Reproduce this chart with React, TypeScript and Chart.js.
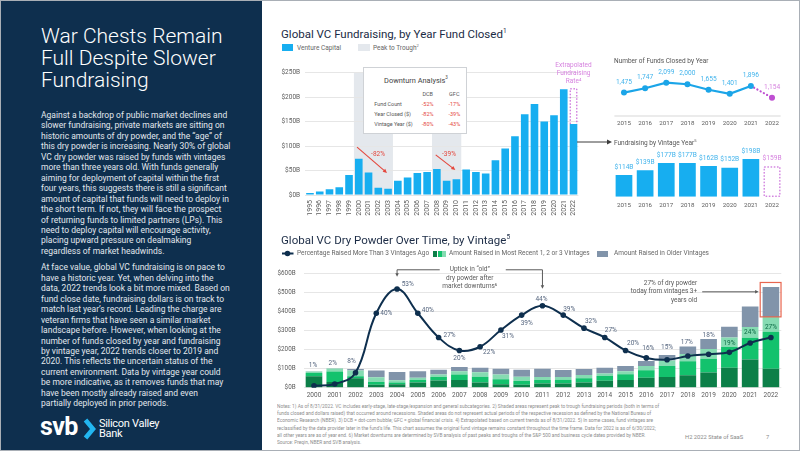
import React, { useEffect, useRef } from 'react';
import { Chart, registerables } from 'chart.js';

Chart.register(...registerables);

const FONT = "Roboto, 'Liberation Sans', Arial, sans-serif";

// ---------------- data ----------------
const closeYears = ['1995','1996','1997','1998','1999','2000','2001','2002','2003','2004','2005','2006','2007','2008','2009','2010','2011','2012','2013','2014','2015','2016','2017','2018','2019','2020','2021','2022'];
const vcFundraisingB = [4,7,12,16,41,74,46,15,13,29,36,45,47,53,29,32,52,47,44,71,95,120,165,186,150,163,216,145];
const extrapolatedTotal2022B = 218;
const topYTickLabels = ['$0B','$50B','$100B','$150B','$200B','$250B'];
const peakToTroughPeriods = [['2000','2003'],['2008','2010']];
const downturnRows = ['Fund Count','Year Closed ($)','Vintage Year ($)'];
const downturnDCB = ['-52%','-82%','-80%'];
const downturnGFC = ['-17%','-39%','-43%'];

const recentYears = ['2015','2016','2017','2018','2019','2020','2021','2022'];
const fundsClosed = [1475,1747,2099,2000,1655,1401,1896,1154];
const vintageFundraisingB = [114,139,177,177,162,152,198,159];

const vintageYears = ['2000','2001','2002','2003','2004','2005','2006','2007','2008','2009','2010','2011','2012','2013','2014','2015','2016','2017','2018','2019','2020','2021','2022'];
const mostRecentVintage1B = [60,30,50,15,18,28,38,40,28,18,15,22,22,28,36,40,52,57,65,80,105,148,100];
const mostRecentVintage2B = [17,55,10,15,10,12,18,30,30,27,20,18,20,22,26,31,40,57,74,72,110,115,195];
const mostRecentVintage3B = [8,16,30,25,11,12,13,17,24,24,23,16,15,17,13,16,22,29,38,52,50,57,78];
const olderVintagesB = [1,2,8,36,44,34,26,22,23,31,37,44,36,31,30,27,26,29,40,53,56,108,158];
const pctOlderThan3 = [1,2,8,40,53,40,27,20,22,31,39,44,39,32,27,20,16,15,17,18,19,24,27];
const dryYTickLabels = ['$0B','$100B','$200B','$300B','$400B','$500B','$600B'];

// ---------------- annotation config (styling / placement) ----------------
const downturnArrows = [
  { label: '-82%', from: [4.82, 98], to: [7.89, 45], labelAt: [6.97, 84] },
  { label: '-39%', from: [12.88, 82], to: [14.89, 51], labelAt: [14.24, 84] },
];
const extrapolatedLabel = ['Extrapolated', 'Fundraising', 'Rate\u2074'];
const pctLabelOffsets = [
  [-1,-20],[-2,-21],[-4,-11],[10,0],[10.6,-5],[10,-3],[11,-2],[0,8.4],[9,6],[7,6],[5,8],
  [-1,-6.5],[6,-6],[7,-7],[6,-7],[7.5,-7],[2,-10],[0,-12],[-1,-13.4],[0,-18.5],[0,-9],[0,-11],[0,-10],
];
const uptickText = ['Uptick in \u201Cold\u201D', 'dry powder after', 'market downturns\u2076'];
const todayText = ['27% of dry powder', 'today from vintages 3+', 'years old'];

const NAVY = '#0e2f4e';
const BLUE = '#17aef0';
const LINE_BLUE = '#1ba5e8';
const LABEL_BLUE = '#43b4ec';
const MAGENTA = '#bf4fd2';
const PINK_TEXT = '#d683df';
const RED = '#e4473d';
const SHADE = '#e4e8ed';
const GRID = '#e6e6e6';
const TICK = '#5c5c5c';
const G1 = '#0c7f48';
const G2 = '#13c26d';
const G3 = '#86dbb2';
const GRAYV = '#8194aa';

function drawArrow(ctx: any, x0: number, y0: number, x1: number, y1: number, color: string, head = 4, width = 1) {
  const ang = Math.atan2(y1 - y0, x1 - x0);
  ctx.save();
  ctx.strokeStyle = color;
  ctx.fillStyle = color;
  ctx.lineWidth = width;
  ctx.beginPath();
  ctx.moveTo(x0, y0);
  ctx.lineTo(x1 - Math.cos(ang) * head * 0.7, y1 - Math.sin(ang) * head * 0.7);
  ctx.stroke();
  ctx.beginPath();
  ctx.moveTo(x1, y1);
  ctx.lineTo(x1 - head * Math.cos(ang - 0.45), y1 - head * Math.sin(ang - 0.45));
  ctx.lineTo(x1 - head * Math.cos(ang + 0.45), y1 - head * Math.sin(ang + 0.45));
  ctx.closePath();
  ctx.fill();
  ctx.restore();
}

const topPlugin = {
  id: 'topAnno',
  beforeDraw(chart: any) {
    const { ctx } = chart;
    const x = chart.scales.x, y = chart.scales.y;
    const step = x.getPixelForValue(1) - x.getPixelForValue(0);
    ctx.save();
    ctx.fillStyle = SHADE;
    peakToTroughPeriods.forEach(([a, b]) => {
      const x0 = x.getPixelForValue(closeYears.indexOf(a)) - step / 2;
      const x1 = x.getPixelForValue(closeYears.indexOf(b)) + step / 2;
      const yt = y.getPixelForValue(y.max), yb = y.getPixelForValue(0);
      ctx.fillRect(x0, yt, x1 - x0, yb - yt);
    });
    ctx.restore();
  },
  afterDraw(chart: any) {
    const { ctx } = chart;
    const x = chart.scales.x, y = chart.scales.y;
    const last = closeYears.length - 1;
    const el = chart.getDatasetMeta(1).data[last];
    const p = el.getProps(['x', 'y', 'base', 'width'], true);
    ctx.save();
    ctx.setLineDash([1.6, 1.6]);
    ctx.strokeStyle = MAGENTA;
    ctx.lineWidth = 1;
    const l = p.x - p.width / 2 + 0.5, r = p.x + p.width / 2 - 0.5;
    ctx.beginPath();
    ctx.moveTo(l, p.base);
    ctx.lineTo(l, p.y + 0.5);
    ctx.lineTo(r, p.y + 0.5);
    ctx.lineTo(r, p.base);
    ctx.stroke();
    ctx.setLineDash([]);
    ctx.font = `6.5px ${FONT}`;
    ctx.textAlign = 'center';
    ctx.textBaseline = 'middle';
    ctx.fillStyle = PINK_TEXT;
    extrapolatedLabel.forEach((t, i) => ctx.fillText(t, p.x, p.y - 22.7 + i * 8));
    downturnArrows.forEach((a) => {
      drawArrow(ctx, x.getPixelForValue(a.from[0]), y.getPixelForValue(a.from[1]), x.getPixelForValue(a.to[0]), y.getPixelForValue(a.to[1]), RED, 4.5, 1.1);
      ctx.fillStyle = RED;
      ctx.font = `6.5px ${FONT}`;
      ctx.fillText(a.label, x.getPixelForValue(a.labelAt[0]), y.getPixelForValue(a.labelAt[1]));
    });
    ctx.restore();
  },
};

const fundsPlugin = {
  id: 'fundsAnno',
  beforeDatasetsDraw(chart: any) {
    const { ctx, chartArea } = chart;
    const y0 = chart.scales.y.getPixelForValue(0);
    ctx.save();
    ctx.strokeStyle = '#e4e4e4';
    ctx.lineWidth = 1.6;
    ctx.beginPath();
    ctx.moveTo(chartArea.left + 1, y0);
    ctx.lineTo(chartArea.right - 2, y0);
    ctx.stroke();
    ctx.restore();
  },
  afterDraw(chart: any) {
    const { ctx } = chart;
    const meta = chart.getDatasetMeta(0);
    ctx.save();
    ctx.font = `6.6px ${FONT}`;
    ctx.textAlign = 'center';
    ctx.textBaseline = 'middle';
    meta.data.forEach((pt: any, i: number) => {
      const last = i === fundsClosed.length - 1;
      ctx.fillStyle = last ? PINK_TEXT : LABEL_BLUE;
      ctx.fillText(fundsClosed[i].toLocaleString('en-US'), pt.x, pt.y - 10.5);
    });
    ctx.restore();
  },
};

const vintagePlugin = {
  id: 'vintAnno',
  afterDraw(chart: any) {
    const { ctx } = chart;
    const meta = chart.getDatasetMeta(0);
    ctx.save();
    ctx.font = `6.6px ${FONT}`;
    ctx.textAlign = 'center';
    ctx.textBaseline = 'middle';
    meta.data.forEach((el: any, i: number) => {
      const p = el.getProps(['x', 'y', 'base', 'width'], true);
      const last = i === vintageFundraisingB.length - 1;
      if (last) {
        ctx.setLineDash([1.6, 1.6]);
        ctx.strokeStyle = MAGENTA;
        ctx.lineWidth = 1;
        ctx.strokeRect(p.x - p.width / 2 + 0.5, p.y + 0.5, p.width - 1, p.base - p.y - 1);
        ctx.setLineDash([]);
      }
      ctx.fillStyle = last ? PINK_TEXT : LABEL_BLUE;
      ctx.fillText('$' + vintageFundraisingB[i] + 'B', p.x, p.y - 8);
    });
    ctx.restore();
  },
};

const dryPlugin = {
  id: 'dryAnno',
  afterDraw(chart: any) {
    const { ctx } = chart;
    const x = chart.scales.x, y = chart.scales.y;
    const lineMeta = chart.getDatasetMeta(0);
    ctx.save();
    ctx.font = `6.5px ${FONT}`;
    ctx.textAlign = 'center';
    ctx.textBaseline = 'middle';
    pctOlderThan3.forEach((v, i) => {
      const pt = lineMeta.data[i];
      const [dx, dy] = pctLabelOffsets[i];
      ctx.fillStyle = i >= 20 ? '#0c6b45' : '#56667f';
      ctx.fillText(v + '%', pt.x + dx, pt.y + dy);
    });

    // uptick bracket
    ctx.strokeStyle = '#5a5a5a';
    ctx.fillStyle = '#5a5a5a';
    ctx.lineWidth = 1;
    const xa = x.getPixelForValue(vintageYears.indexOf('2004'));
    const xb = x.getPixelForValue(vintageYears.indexOf('2011'));
    const xm = (xa + xb) / 2;
    const yTop = y.getPixelForValue(621);
    ctx.fillStyle = '#5a5a5a';
    uptickText.forEach((t, i) => ctx.fillText(t, xm, yTop + i * 8.2));
    const hw = ctx.measureText(uptickText[0]).width / 2 + 10;
    ctx.beginPath();
    ctx.moveTo(xm - hw, yTop);
    ctx.lineTo(xa, yTop);
    ctx.stroke();
    drawArrow(ctx, xa, yTop, xa, y.getPixelForValue(584), '#5a5a5a', 4, 1);
    ctx.beginPath();
    ctx.moveTo(xm + hw + 6, yTop);
    ctx.lineTo(xb, yTop);
    ctx.stroke();
    drawArrow(ctx, xb, yTop, xb, y.getPixelForValue(521), '#5a5a5a', 4, 1);

    // 2022 highlight
    const oldMeta = chart.getDatasetMeta(4);
    const el = oldMeta.data[vintageYears.length - 1];
    const p = el.getProps(['x', 'y', 'base', 'width'], true);
    const rl = p.x - p.width / 2 - 2.4, rr = p.x + p.width / 2 + 1.8;
    const rt = p.y - 4.4, rb = p.base;
    ctx.strokeStyle = '#e8664f';
    ctx.lineWidth = 1.2;
    ctx.strokeRect(rl, rt, rr - rl, rb - rt);
    const ay = y.getPixelForValue(505);
    drawArrow(ctx, rl - 58, ay, rl - 1.5, ay, '#5a5a5a', 4, 1);
    ctx.textAlign = 'right';
    ctx.fillStyle = '#5a5a5a';
    todayText.forEach((t, i) => ctx.fillText(t, rl - 63, ay + (i - 1) * 8.3));
    ctx.restore();
  },
};

const para1 = [
  'Against a backdrop of public market declines and',
  'slower fundraising, private markets are sitting on',
  'historic amounts of dry powder, and the \u201Cage\u201D of',
  'this dry powder is increasing. Nearly 30% of global',
  'VC dry powder was raised by funds with vintages',
  'more than three years old. With funds generally',
  'aiming for deployment of capital within the first',
  'four years, this suggests there is still a significant',
  'amount of capital that funds will need to deploy in',
  'the short term. If not, they will face the prospect',
  'of returning funds to limited partners (LPs). This',
  'need to deploy capital will encourage activity,',
  'placing upward pressure on dealmaking',
  'regardless of market headwinds.',
];
const para2 = [
  'At face value, global VC fundraising is on pace to',
  'have a historic year. Yet, when delving into the',
  'data, 2022 trends look a bit more mixed. Based on',
  'fund close date, fundraising dollars is on track to',
  'match last year\u2019s record. Leading the charge are',
  'veteran firms that have seen a similar market',
  'landscape before. However, when looking at the',
  'number of funds closed by year and fundraising',
  'by vintage year, 2022 trends closer to 2019 and',
  '2020. This reflects the uncertain status of the',
  'current environment. Data by vintage year could',
  'be more indicative, as it removes funds that may',
  'have been mostly already raised and even',
  'partially deployed in prior periods.',
];
const footerLines = [
  'Notes: 1) As of 8/31/2022. VC includes early-stage, late-stage/expansion and general subcategories. 2) Shaded areas represent peak to trough fundraising periods (both in terms of',
  'funds closed and dollars raised) that occurred around recessions. Shaded areas do not represent actual periods of the respective recession as defined by the National Bureau of',
  'Economic Research (NBER). 3) DCB = dot-com bubble; GFC = global financial crisis. 4) Extrapolated based on current trends as of 8/31/2022. 5) In some cases, fund vintages are',
  'reclassified by the data provider later in the fund\u2019s life. This chart assumes the original fund vintage remains constant throughout the time frame. Data for 2022 is as of 6/30/2022;',
  'all other years are as of year end. 6) Market downturns are determined by SVB analysis of past peaks and troughs of the S&P 500 and business cycle dates provided by NBER.',
  'Source: Preqin, NBER and SVB analysis.',
];

const T = ({ x, y, s, c = '#555', w = 400, center = false, children, style = {} }: any) => (
  <div
    style={{
      position: 'absolute',
      left: x,
      top: y,
      fontSize: s,
      color: c,
      fontWeight: w,
      lineHeight: 1,
      whiteSpace: 'nowrap',
      transform: center ? 'translate(-50%,-50%)' : 'translateY(-50%)',
      ...style,
    }}
  >
    {children}
  </div>
);

const Box = ({ x, y, w, h, c }: any) => (
  <div style={{ position: 'absolute', left: x, top: y, width: w, height: h, background: c }} />
);

export default function App() {
  const topRef = useRef<HTMLCanvasElement>(null);
  const fundsRef = useRef<HTMLCanvasElement>(null);
  const vintRef = useRef<HTMLCanvasElement>(null);
  const dryRef = useRef<HTMLCanvasElement>(null);

  useEffect(() => {
    Chart.defaults.font.family = FONT;
    const charts: any[] = [];

    charts.push(
      new Chart(topRef.current as any, {
        type: 'bar',
        data: {
          labels: closeYears,
          datasets: [
            { label: 'Venture Capital', data: vcFundraisingB, backgroundColor: BLUE, barPercentage: 0.78, categoryPercentage: 1, stack: 's' },
            {
              label: 'Extrapolated',
              data: closeYears.map((_, i) => (i === closeYears.length - 1 ? extrapolatedTotal2022B - vcFundraisingB[i] : null)),
              backgroundColor: 'rgba(0,0,0,0)',
              barPercentage: 0.78,
              categoryPercentage: 1,
              stack: 's',
            },
          ],
        },
        options: {
          responsive: false,
          animation: false,
          devicePixelRatio: 1,
          layout: { padding: { top: 17.7, right: 21.6, left: 0, bottom: 0 } },
          plugins: { legend: { display: false }, tooltip: { enabled: false } },
          scales: {
            x: {
              stacked: true,
              grid: { display: false, drawTicks: false },
              border: { display: false },
              ticks: { autoSkip: false, minRotation: 90, maxRotation: 90, padding: 5, color: TICK, font: { size: 7 } },
              afterFit: (s: any) => { s.height = 40; },
            },
            y: {
              stacked: true,
              min: 0,
              max: 250,
              ticks: { stepSize: 50, padding: 5, color: TICK, font: { size: 6.5 }, callback: (_v: any, i: number) => topYTickLabels[i] },
              grid: { color: GRID, drawTicks: false },
              border: { display: false },
              afterFit: (s: any) => { s.width = 35.1; },
            },
          },
        } as any,
        plugins: [topPlugin],
      })
    );

    charts.push(
      new Chart(fundsRef.current as any, {
        type: 'line',
        data: {
          labels: recentYears,
          datasets: [
            {
              data: fundsClosed,
              borderColor: LINE_BLUE,
              borderWidth: 2.2,
              borderCapStyle: 'round',
              pointRadius: 3,
              pointBorderWidth: 0,
              pointBackgroundColor: recentYears.map((_, i) => (i === recentYears.length - 1 ? MAGENTA : LINE_BLUE)),
              tension: 0,
              segment: {
                borderColor: (c: any) => (c.p1DataIndex === recentYears.length - 1 ? MAGENTA : LINE_BLUE),
                borderDash: (c: any) => (c.p1DataIndex === recentYears.length - 1 ? [0.1, 3.6] : undefined),
              },
            },
          ],
        },
        options: {
          responsive: false,
          animation: false,
          devicePixelRatio: 1,
          layout: { padding: { top: 6.4, right: 7.4, left: 8.4, bottom: 0 } },
          plugins: { legend: { display: false }, tooltip: { enabled: false } },
          scales: {
            x: {
              offset: true,
              grid: { display: false, drawTicks: false },
              border: { display: false },
              ticks: { padding: 4, color: TICK, font: { size: 6.2 } },
              afterFit: (s: any) => { s.height = 16; },
            },
            y: { display: false, min: 0, max: 3000 },
          },
        } as any,
        plugins: [fundsPlugin],
      })
    );

    charts.push(
      new Chart(vintRef.current as any, {
        type: 'bar',
        data: {
          labels: recentYears,
          datasets: [
            {
              data: vintageFundraisingB,
              backgroundColor: recentYears.map((_, i) => (i === recentYears.length - 1 ? 'rgba(0,0,0,0)' : BLUE)),
              barPercentage: 0.79,
              categoryPercentage: 1,
            },
          ],
        },
        options: {
          responsive: false,
          animation: false,
          devicePixelRatio: 1,
          layout: { padding: { top: 9.2, right: 7.4, left: 8.4, bottom: 0 } },
          plugins: { legend: { display: false }, tooltip: { enabled: false } },
          scales: {
            x: {
              grid: { display: false, drawTicks: false },
              border: { display: false },
              ticks: { padding: 4.7, color: TICK, font: { size: 6.2 } },
              afterFit: (s: any) => { s.height = 15.3; },
            },
            y: { display: false, min: 0, max: 250 },
          },
        } as any,
        plugins: [vintagePlugin],
      })
    );

    const barCommon = { type: 'bar', yAxisID: 'y', stack: 'v', barPercentage: 0.8, categoryPercentage: 1, order: 1 };
    charts.push(
      new Chart(dryRef.current as any, {
        type: 'bar',
        data: {
          labels: vintageYears,
          datasets: [
            {
              type: 'line',
              label: 'Percentage Raised More Than 3 Vintages Ago',
              data: pctOlderThan3,
              yAxisID: 'y1',
              borderColor: NAVY,
              borderWidth: 2,
              pointRadius: 2.8,
              pointBorderWidth: 0,
              pointBackgroundColor: NAVY,
              tension: 0.4,
              order: 0,
            },
            { ...barCommon, label: 'Most recent vintage', data: mostRecentVintage1B, backgroundColor: G1 },
            { ...barCommon, label: 'Second most recent vintage', data: mostRecentVintage2B, backgroundColor: G2 },
            { ...barCommon, label: 'Third most recent vintage', data: mostRecentVintage3B, backgroundColor: G3 },
            { ...barCommon, label: 'Amount Raised in Older Vintages', data: olderVintagesB, backgroundColor: GRAYV },
          ],
        } as any,
        options: {
          responsive: false,
          animation: false,
          devicePixelRatio: 1,
          layout: { padding: { top: 9.7, right: 13.7, left: 0, bottom: 0 } },
          plugins: { legend: { display: false }, tooltip: { enabled: false } },
          scales: {
            x: {
              stacked: true,
              grid: { display: false, drawTicks: false },
              border: { display: false },
              ticks: { padding: 4, color: TICK, font: { size: 6.5 } },
              afterFit: (s: any) => { s.height = 14.3; },
            },
            y: {
              stacked: true,
              min: 0,
              max: 600,
              ticks: { stepSize: 100, padding: 8, color: TICK, font: { size: 6.3 }, callback: (_v: any, i: number) => dryYTickLabels[i] },
              grid: { color: GRID, drawTicks: false },
              border: { display: false },
              afterFit: (s: any) => { s.width = 33.6; },
            },
            y1: { display: false, min: 0, max: 61.2 },
          },
        } as any,
        plugins: [dryPlugin],
      })
    );

    return () => charts.forEach((c) => c.destroy());
  }, []);

  const titleStyle = { color: '#1b2b45' };

  return (
    <div style={{ position: 'absolute', left: 0, top: 0, width: 802, height: 452, background: '#fff', fontFamily: FONT, overflow: 'hidden' }}>
      <div style={{ position: 'absolute', left: 0, top: 0, width: 800, height: 451, border: '1px solid #a9afb6', boxSizing: 'border-box' }} />
      {/* Left panel */}
      <div style={{ position: 'absolute', left: 1, top: 1, width: 261, height: 449, background: NAVY }} />
      <div style={{ position: 'absolute', left: 41, top: 24.6, color: '#fff', fontSize: 21, fontWeight: 300, lineHeight: '22.3px', whiteSpace: 'nowrap' }}>
        <div>War Chests Remain</div>
        <div>Full Despite Slower</div>
        <div>Fundraising</div>
      </div>
      <div style={{ position: 'absolute', left: 41, top: 110, color: '#e2e7ed', fontSize: 8.5, lineHeight: '10.45px', whiteSpace: 'nowrap' }}>
        {para1.map((l, i) => <div key={i}>{l}</div>)}
      </div>
      <div style={{ position: 'absolute', left: 41, top: 262.4, color: '#e2e7ed', fontSize: 8.5, lineHeight: '10.45px', whiteSpace: 'nowrap' }}>
        {para2.map((l, i) => <div key={i}>{l}</div>)}
      </div>
      <div style={{ position: 'absolute', left: 40, top: 414, color: '#fff', fontSize: 25, fontWeight: 700, lineHeight: '25px', letterSpacing: -0.6 }}>svb</div>
      <svg style={{ position: 'absolute', left: 80, top: 415 }} width={20} height={28}>
        <polyline points="5.5,5 13,14 5.5,23" fill="none" stroke="#22b6f0" strokeWidth={4.6} strokeLinejoin="miter" />
      </svg>
      <div style={{ position: 'absolute', left: 99, top: 418.5, color: '#fff', fontSize: 11, lineHeight: '10px', letterSpacing: -0.3, whiteSpace: 'nowrap' }}>
        <div>Silicon Valley</div>
        <div>Bank</div>
      </div>

      {/* canvases */}
      <canvas ref={topRef} width={330} height={180} style={{ position: 'absolute', left: 270, top: 55, width: 330, height: 180 }} />
      <canvas ref={fundsRef} width={185} height={70} style={{ position: 'absolute', left: 605, top: 62, width: 185, height: 70 }} />
      <canvas ref={vintRef} width={185} height={72} style={{ position: 'absolute', left: 605, top: 140, width: 185, height: 72 }} />
      <canvas ref={dryRef} width={525} height={140} style={{ position: 'absolute', left: 270, top: 262, width: 525, height: 140 }} />

      {/* top chart title & legend */}
      <T x={281} y={33.5} s={11.5} style={titleStyle}>
        Global VC Fundraising, by Year Fund Closed<sup style={{ fontSize: 6.5 }}>1</sup>
      </T>
      <Box x={281.7} y={44.4} w={11.6} h={6.2} c={BLUE} />
      <T x={297} y={47.6} s={6.5} c="#666">Venture Capital</T>
      <Box x={358.3} y={44.4} w={11.7} h={6.2} c={SHADE} />
      <T x={373} y={47.6} s={6.5} c="#666">Peak to Trough<sup style={{ fontSize: 4 }}>2</sup></T>

      {/* downturn box */}
      <div style={{ position: 'absolute', left: 363, top: 67, width: 104, height: 67, background: '#fff', border: '1px solid #cfd2d6', boxSizing: 'border-box' }}>
        <T x={52} y={12.3} s={7.4} c="#444" center>Downturn Analysis<sup style={{ fontSize: 4.5 }}>3</sup></T>
        <T x={63.7} y={27} s={5.5} c="#555" center>DCB</T>
        <T x={90.3} y={27} s={5.5} c="#555" center>GFC</T>
        {downturnRows.map((r, i) => (
          <React.Fragment key={r}>
            <T x={10.3} y={37 + i * 10} s={5.4} c="#555">{r}</T>
            <T x={63.7} y={37 + i * 10} s={5.5} c={RED} center>{downturnDCB[i]}</T>
            <T x={90.3} y={37 + i * 10} s={5.5} c={RED} center>{downturnGFC[i]}</T>
          </React.Fragment>
        ))}
      </div>

      {/* small charts titles and connector */}
      <T x={614} y={61} s={6.5} c="#555">Number of Funds Closed by Year</T>
      <T x={614} y={143} s={6.5} c="#555">Fundraising by Vintage Year<sup style={{ fontSize: 4 }}>5</sup></T>
      <svg style={{ position: 'absolute', left: 575, top: 138 }} width={40} height={8}>
        <line x1={2} y1={4} x2={33} y2={4} stroke="#3d3d3d" strokeWidth={1} />
        <polygon points="37,4 32,1.5 32,6.5" fill="#3d3d3d" />
      </svg>

      {/* bottom chart title & legend */}
      <T x={281} y={239.5} s={11.5} style={titleStyle}>
        Global VC Dry Powder Over Time, by Vintage<sup style={{ fontSize: 6.5 }}>5</sup>
      </T>
      <svg style={{ position: 'absolute', left: 281, top: 249.8 }} width={14} height={7}>
        <line x1={1} y1={3.5} x2={12.5} y2={3.5} stroke={NAVY} strokeWidth={2} />
        <circle cx={6.5} cy={3.5} r={2.8} fill={NAVY} />
      </svg>
      <T x={297} y={253.4} s={6.5} c="#666">Percentage Raised More Than 3 Vintages Ago</T>
      <Box x={433.3} y={250.5} w={4.2} h={6} c={G1} />
      <Box x={437.5} y={250.5} w={4.2} h={6} c={G2} />
      <Box x={441.7} y={250.5} w={4.1} h={6} c={G3} />
      <T x={449} y={253.4} s={6.5} c="#666">Amount Raised in Most Recent 1, 2 or 3 Vintages</T>
      <Box x={596.7} y={250.5} w={11.6} h={6} c={GRAYV} />
      <T x={614} y={253.4} s={6.5} c="#666">Amount Raised in Older Vintages</T>

      {/* footer */}
      <div style={{ position: 'absolute', left: 277, top: 403.3, transformOrigin: '0 0', transform: 'scale(0.5)', fontSize: 9.6, lineHeight: '14.2px', color: '#8d8d8d', whiteSpace: 'nowrap' }}>
        {footerLines.map((l, i) => <div key={i}>{l}</div>)}
      </div>
      <T x={685} y={438.3} s={5.8} c="#8a8a8a">H2 2022 State of SaaS</T>
      <T x={766} y={438.3} s={5.8} c="#8a8a8a">7</T>
    </div>
  );
}
